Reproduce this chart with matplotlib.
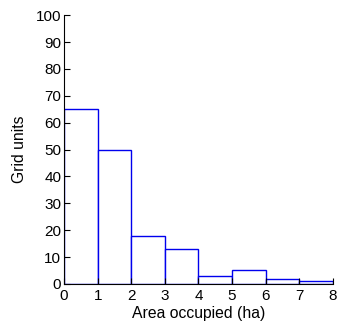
import matplotlib
matplotlib.use('Agg')
import matplotlib.pyplot as plt

plt.rcParams['font.family'] = ['Liberation Sans', 'DejaVu Sans']

bin_edges = [0, 1, 2, 3, 4, 5, 6, 7, 8]
counts = [65, 50, 18, 13, 3, 5, 2, 1]

fig = plt.figure(figsize=(3.39, 3.29), dpi=100)
ax = fig.add_axes([0.189, 0.137, 0.793, 0.817])

ax.bar(bin_edges[:-1], counts, width=1, align='edge', facecolor='white',
       edgecolor='#0000ee', linewidth=1.0)

ax.set_xlim(0, 8)
ax.set_ylim(0, 100)
ax.set_xticks(range(0, 9))
ax.set_yticks(range(0, 101, 10))
ax.tick_params(direction='in', length=4, width=0.8, labelsize=11)
ax.tick_params(axis='x', pad=4)
ax.tick_params(axis='y', pad=2)
ax.spines['top'].set_visible(False)
ax.spines['right'].set_visible(False)
ax.set_xlabel('Area occupied (ha)', fontsize=11.3, labelpad=2)
ax.set_ylabel('Grid units', fontsize=11.3, labelpad=6)

fig.savefig('out.png', dpi=100)
